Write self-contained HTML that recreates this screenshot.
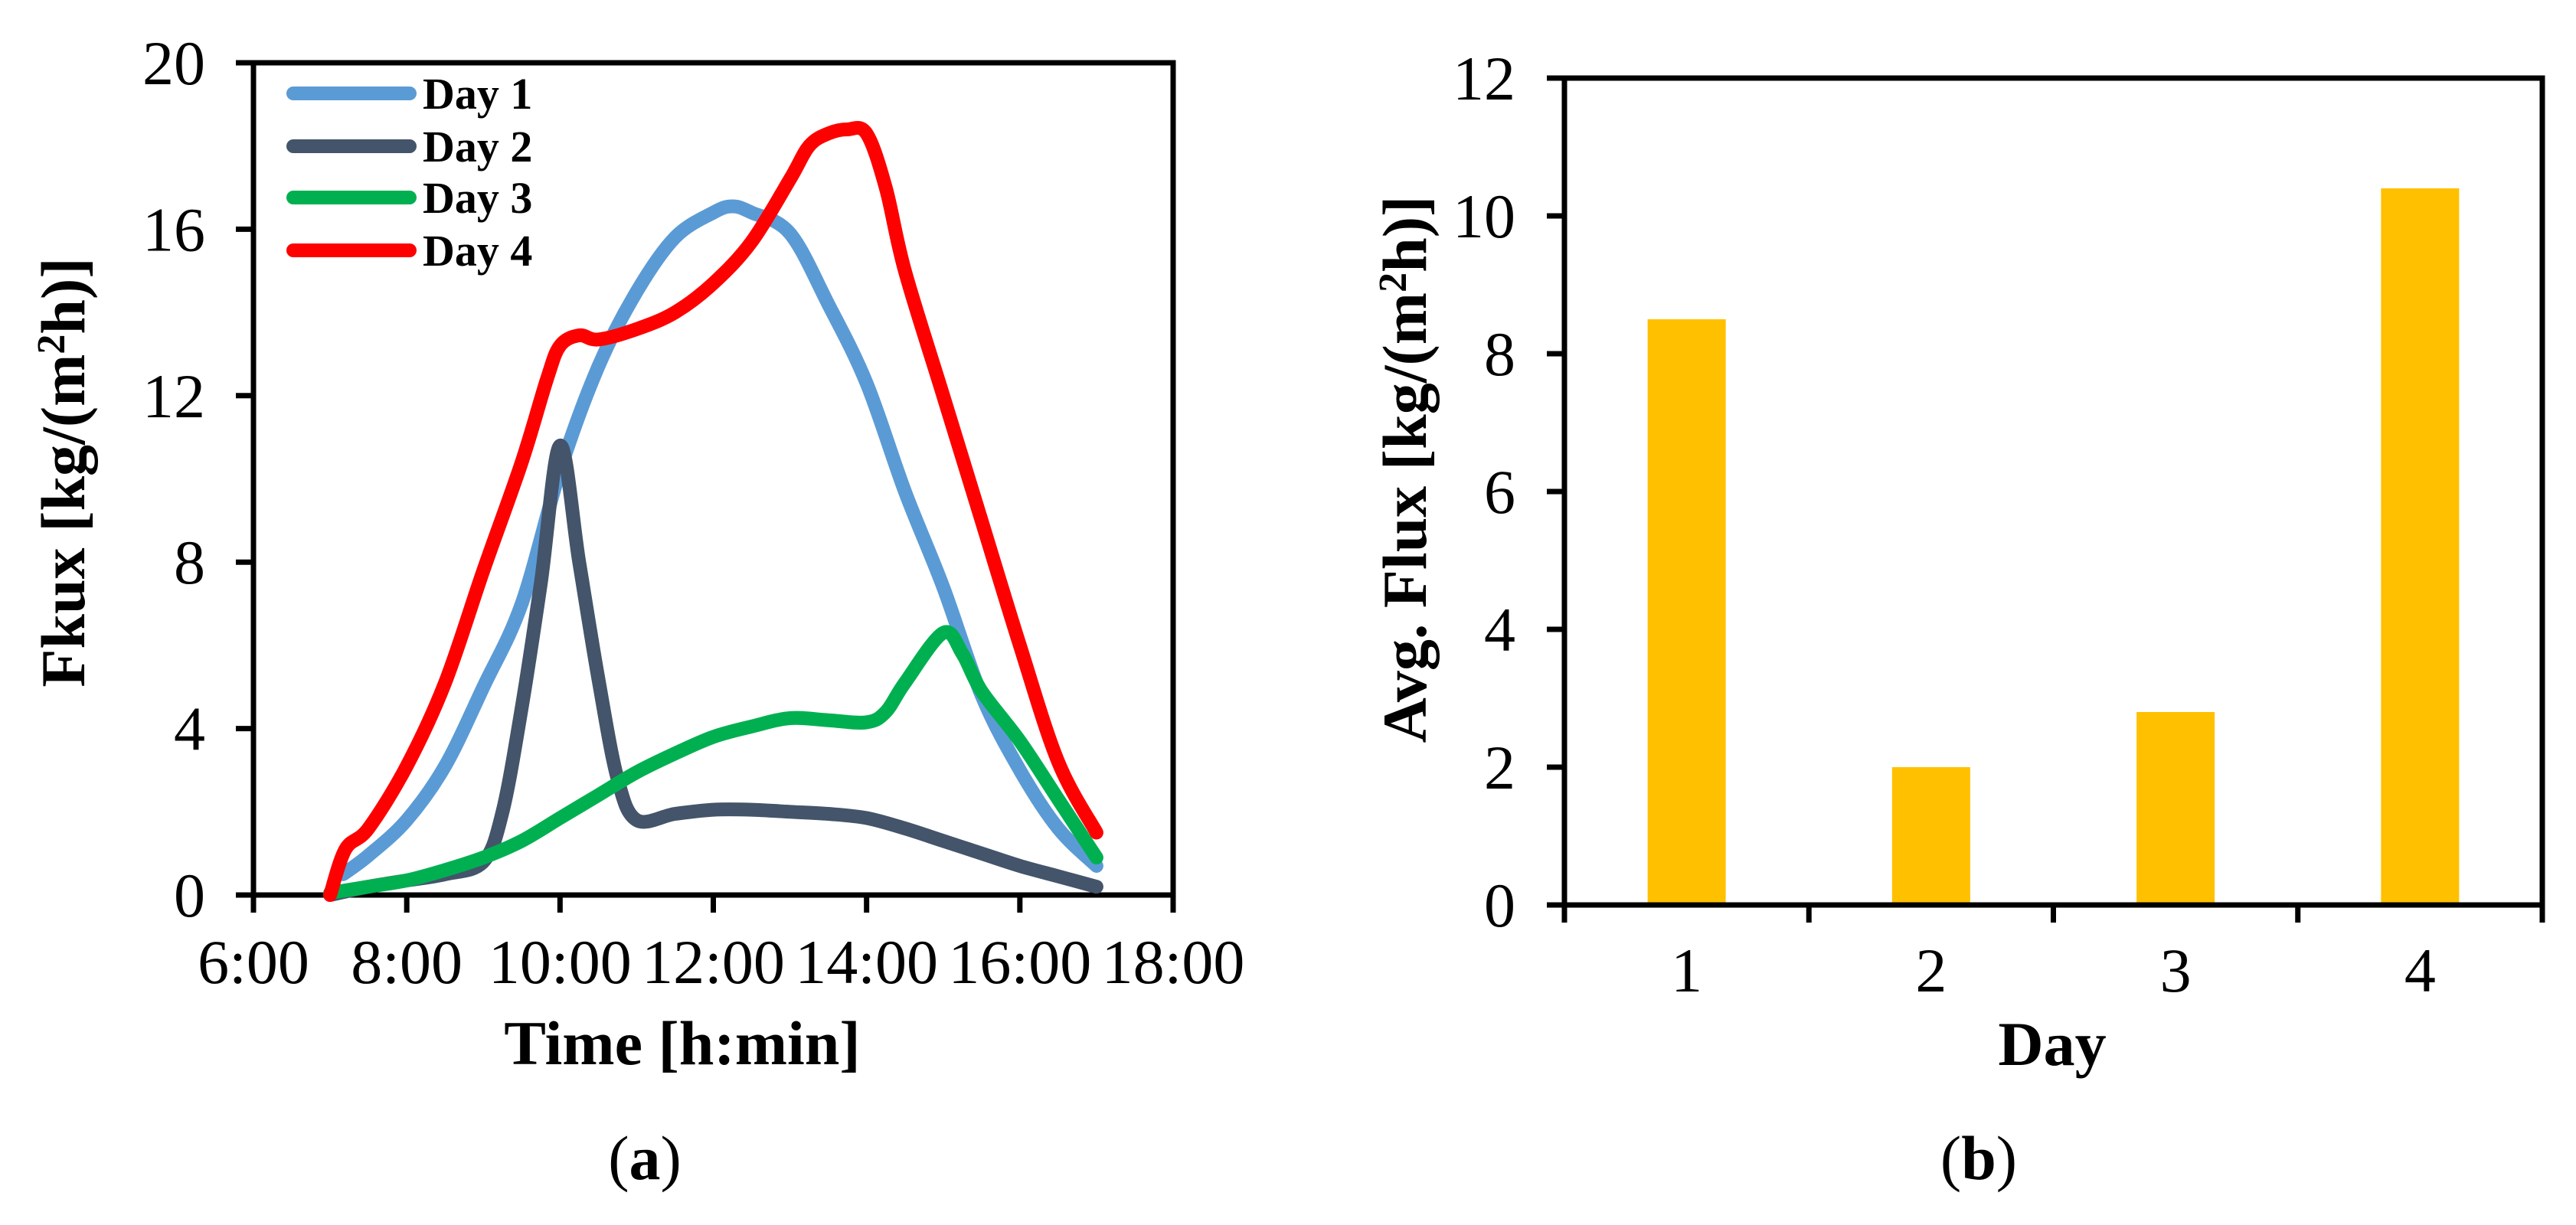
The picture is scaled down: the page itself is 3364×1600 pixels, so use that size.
<!DOCTYPE html>
<html><head><meta charset="utf-8">
<style>
html,body{margin:0;padding:0;background:#fff;}
svg{display:block;}
text{font-family:"Liberation Serif",serif;fill:#000;}
</style></head>
<body>
<svg id="fig" width="3364" height="1600" viewBox="0 0 3364 1600" xmlns="http://www.w3.org/2000/svg">
<g id="chartA"></g>
<g id="chartB"></g>
</svg>
<script>
// ---- Chart (a) data ----
const seriesNames = ["Day 1","Day 2","Day 3","Day 4"];
const seriesColors = ["#5B9BD5","#44546A","#00B050","#FF0000"];
const day1Times = [7.17,7.5,8,8.5,9,9.5,10,10.5,11,11.5,12,12.25,12.5,13,13.5,14,14.5,15,15.5,16,16.5,17];
const day1Values = [0.5,0.95,1.8,3.1,5.0,7.0,10.2,12.7,14.5,15.8,16.4,16.55,16.4,15.9,14.2,12.3,9.7,7.4,4.8,3.0,1.6,0.7];
const day2Times = [7,7.5,8,8.5,9,9.25,9.5,9.75,10,10.25,10.5,10.75,11,11.5,12,12.5,13,13.5,14,14.5,15,15.5,16,16.5,17];
const day2Values = [0,0.2,0.35,0.5,0.8,2.0,4.5,7.5,10.8,8.0,5.2,2.8,1.8,1.95,2.05,2.05,2.0,1.95,1.85,1.6,1.3,1.0,0.7,0.45,0.2];
const day3Times = [7,7.5,8,8.5,9,9.5,10,10.5,11,11.5,12,12.5,13,13.5,14,14.25,14.5,15,15.25,15.5,16,16.5,17];
const day3Values = [0.05,0.2,0.35,0.6,0.9,1.3,1.85,2.4,2.95,3.4,3.8,4.05,4.25,4.2,4.15,4.4,5.1,6.3,5.8,4.9,3.7,2.3,0.9];
const day4Times = [7,7.2,7.5,8,8.5,9,9.5,9.83,10,10.25,10.5,11,11.5,12,12.5,13,13.25,13.5,13.75,14,14.25,14.5,15,15.5,16,16.5,17];
const day4Values = [0,1.1,1.6,3.1,5.1,7.8,10.4,12.4,13.2,13.45,13.35,13.6,14.0,14.7,15.7,17.2,18.0,18.3,18.4,18.3,17.0,15.0,12.0,9.0,6.0,3.2,1.5];
const xTicksA = [6,8,10,12,14,16,18];
const xTickLabelsA = ["6:00","8:00","10:00","12:00","14:00","16:00","18:00"];
const yTicksA = [0,4,8,12,16,20];

// ---- Chart (b) data ----
const barCategories = ["1","2","3","4"];
const barValues = [8.5,2.0,2.8,10.4];
const yTicksB = [0,2,4,6,8,10,12];

const NS="http://www.w3.org/2000/svg";
function mk(parent,tag,attrs,txt){const e=document.createElementNS(NS,tag);for(const k in attrs)e.setAttribute(k,attrs[k]);if(txt!==undefined)e.textContent=txt;parent.appendChild(e);return e;}

// ===== Chart A =====
const A=document.getElementById('chartA');
const aL=331,aR=1532,aT=82,aB=1169;
const ax=h=>aL+(h-6)/12*(aR-aL);
const ay=v=>aB-v/20*(aB-aT);
function smoothPath(xs,ys){
  const p=xs.map((x,i)=>[ax(x),ay(ys[i])]);
  let d=`M${p[0][0]},${p[0][1]}`;
  for(let i=0;i<p.length-1;i++){
    const p0=p[Math.max(0,i-1)],p1=p[i],p2=p[i+1],p3=p[Math.min(p.length-1,i+2)];
    const c1=[p1[0]+(p2[0]-p0[0])/6,p1[1]+(p2[1]-p0[1])/6];
    const c2=[p2[0]-(p3[0]-p1[0])/6,p2[1]-(p3[1]-p1[1])/6];
    d+=` C${c1[0]},${c1[1]} ${c2[0]},${c2[1]} ${p2[0]},${p2[1]}`;
  }
  return d;
}
let e;
e=mk(A,'rect',{x:aL,y:aT,width:aR-aL,height:aB-aT,fill:'none',stroke:'#000','stroke-width':7});


yTicksA.forEach(v=>{
  e=mk(A,'line',{x1:aL-23,x2:aL,y1:ay(v),y2:ay(v),stroke:'#000','stroke-width':7});
  
  
  e=mk(A,'text',{x:268,y:ay(v)+28,'text-anchor':'end','font-size':82},String(v));
  
  
});
xTicksA.forEach((h,i)=>{
  e=mk(A,'line',{x1:ax(h),x2:ax(h),y1:aB,y2:aB+23,stroke:'#000','stroke-width':7});
  
  
  e=mk(A,'text',{x:ax(h),y:1284,'text-anchor':'middle','font-size':82},xTickLabelsA[i]);
  
  
});
const allT=[day1Times,day2Times,day3Times,day4Times];
const allV=[day1Values,day2Values,day3Values,day4Values];
allT.forEach((t,i)=>{
  e=mk(A,'path',{d:smoothPath(t,allV[i]),fill:'none',stroke:seriesColors[i],'stroke-width':18,'stroke-linecap':'round','stroke-linejoin':'round'});
  
  
});
const legY=[122,191,258,327];
seriesNames.forEach((n,i)=>{
  e=mk(A,'line',{x1:383,x2:535,y1:legY[i],y2:legY[i],stroke:seriesColors[i],'stroke-width':18,'stroke-linecap':'round'});
  
  
  e=mk(A,'text',{x:552,y:legY[i]+20,'font-size':58,'font-weight':'bold'},n);
  
  
});
e=mk(A,'text',{x:891,y:1390,'text-anchor':'middle','font-size':82,'font-weight':'bold'},'Time [h:min]');


e=mk(A,'text',{transform:'translate(110,617) rotate(-90)','text-anchor':'middle','font-size':82,'font-weight':'bold'});


e.innerHTML='Fkux [kg/(m<tspan dy="-26" font-size="52">2</tspan><tspan dy="26">h)]</tspan>';
e=mk(A,'text',{x:842,y:1540,'text-anchor':'middle','font-size':82});


e.innerHTML='(<tspan font-weight="bold">a</tspan>)';

// ===== Chart B =====
const B=document.getElementById('chartB');
const bL=2043,bR=3320,bT=102,bB=1182;
const catW=(bR-bL)/barCategories.length;
const bx=i=>bL+catW*(i+0.5);
const by=v=>bB-v/12*(bB-bT);
const barW=102;
barValues.forEach((v,i)=>{
  e=mk(B,'rect',{x:bx(i)-barW/2,y:by(v),width:barW,height:bB-by(v),fill:'#FFC000'});
  
  
});
e=mk(B,'rect',{x:bL,y:bT,width:bR-bL,height:bB-bT,fill:'none',stroke:'#000','stroke-width':7});


yTicksB.forEach(v=>{
  e=mk(B,'line',{x1:bL-23,x2:bL,y1:by(v),y2:by(v),stroke:'#000','stroke-width':7});
  
  
  e=mk(B,'text',{x:1979,y:by(v)+28,'text-anchor':'end','font-size':82},String(v));
  
  
});
for(let i=0;i<=barCategories.length;i++){
  e=mk(B,'line',{x1:bL+catW*i,x2:bL+catW*i,y1:bB,y2:bB+23,stroke:'#000','stroke-width':7});
  
  
}
barCategories.forEach((c,i)=>{
  e=mk(B,'text',{x:bx(i),y:1295,'text-anchor':'middle','font-size':82},c);
  
  
});
e=mk(B,'text',{x:2680,y:1391,'text-anchor':'middle','font-size':82,'font-weight':'bold'},'Day');


e=mk(B,'text',{transform:'translate(1862,613) rotate(-90)','text-anchor':'middle','font-size':82,'font-weight':'bold'});


e.innerHTML='Avg. Flux [kg/(m<tspan dy="-26" font-size="52">2</tspan><tspan dy="26">h)]</tspan>';
e=mk(B,'text',{x:2584,y:1540,'text-anchor':'middle','font-size':82});


e.innerHTML='(<tspan font-weight="bold">b</tspan>)';
</script>
</body></html>
